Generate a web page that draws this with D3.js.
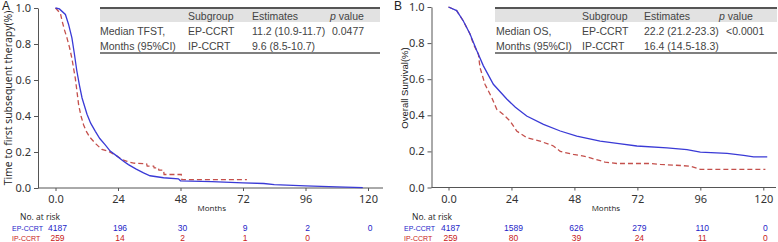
<!DOCTYPE html>
<html>
<head>
<meta charset="utf-8">
<script src="https://cdn.jsdelivr.net/npm/d3@7"></script>
<style>
  body { margin: 0; background: #fff; }
  svg { display: block; }
  text { font-family: "Liberation Sans", Arial, sans-serif; }
</style>
</head>
<body>
<div id="chart"></div>
<script>
// ---- data ----
const monthTicks = [0, 24, 48, 72, 96, 120];
const yTicks = [0, 0.2, 0.4, 0.6, 0.8, 1.0];

// panel A: time to first subsequent therapy
const tfstEP = [[0,1],[1.5,0.995],[3.8,0.964],[5,0.91],[6.3,0.834],[7.2,0.75],[8.2,0.65],[9.2,0.57],[10.2,0.50],
  [12.1,0.41],[13.5,0.36],[15.3,0.315],[17,0.275],[19.1,0.24],[21,0.205],[23.6,0.177],[26,0.15],[28,0.13],
  [31,0.105],[33.8,0.084],[36.3,0.068],[41.5,0.057],[47.2,0.051],[48,0.04],[60,0.035],[72,0.029],[80,0.025],
  [84,0.019],[96,0.012],[108,0.006],[118,0.002]];
const tfstIP = [[0,1],[1.9,0.97],[2.5,0.93],[3.4,0.88],[4.4,0.834],[5.4,0.78],[6.3,0.72],[7.0,0.66],[7.6,0.61],
  [8.3,0.53],[8.9,0.46],[9.8,0.40],[10.8,0.35],[12,0.31],[13.3,0.28],[15.5,0.245],[17.8,0.214],[20.4,0.204],
  [22,0.19],[23.6,0.178],[25.5,0.158],[27.5,0.148],[30,0.138],[35,0.134],[35.2,0.122],[37.7,0.122],[37.9,0.112],
  [39.5,0.112],[39.7,0.099],[41.5,0.099],[41.7,0.075],[48.3,0.075],[48.5,0.047],[73.5,0.047]];

// panel B: overall survival
const osEP = [[0,1],[3.1,0.98],[5.6,0.924],[8.2,0.85],[10.8,0.757],[13.3,0.674],[17.1,0.572],[22.2,0.49],
  [25.5,0.445],[29.8,0.396],[36.2,0.35],[42.6,0.313],[48.9,0.285],[57.8,0.257],[65,0.243],[71.8,0.23],
  [83.3,0.22],[90.9,0.21],[96,0.196],[106.2,0.189],[112.5,0.178],[116.3,0.17],[121.5,0.17]];
const osIP = [[0,1],[3.1,0.98],[5.6,0.924],[8.2,0.85],[9.5,0.794],[11.4,0.739],[12,0.665],[13.9,0.572],
  [16.5,0.498],[18.4,0.433],[20.9,0.405],[23.5,0.368],[26,0.313],[29.8,0.276],[34.9,0.257],[40,0.23],
  [42.6,0.20],[47.6,0.183],[51.5,0.174],[55.3,0.159],[59.7,0.141],[64.2,0.133],[77,0.133],[80.7,0.128],
  [88.4,0.122],[92.2,0.118],[96,0.10],[120.8,0.10]];

// numbers at risk
const riskTfstEP = [4187, 196, 30, 9, 2, 0];
const riskTfstIP = [259, 14, 2, 1, 0];
const riskOsEP = [4187, 1589, 626, 279, 110, 0];
const riskOsIP = [259, 80, 39, 24, 11, 0];

const tableHeader = ["Subgroup", "Estimates", "p value"];
const tfstRows = [["Median TFST,", "EP-CCRT", "11.2 (10.9-11.7)", "0.0477"],
                  ["Months (95%CI)", "IP-CCRT", "9.6 (8.5-10.7)", ""]];
const osRows = [["Median OS,", "EP-CCRT", "22.2 (21.2-23.3)", "<0.0001"],
                ["Months (95%CI)", "IP-CCRT", "16.4 (14.5-18.3)", ""]];

const blue = "#3a3ad6", red = "#c4504c";
const blueTxt = "#2424c8", redTxt = "#c82020";

const svg = d3.select("#chart").append("svg")
    .attr("width", 778).attr("height", 242);

function drawPanel(cfg) {
    let g = svg.append("g");

    let x = d3.scaleLinear().domain([0, 120]).range([cfg.x0, cfg.x1]);
    let y = d3.scaleLinear().domain([0, 1]).range([cfg.yb, cfg.yt]);

    // panel letter
    g.append("text").attr("x", cfg.letterX).attr("y", 10)
        .attr("font-size", 12).attr("fill", "#222").text(cfg.letter);

    // y axis
    let yAxis = d3.axisLeft(y).tickValues(yTicks).tickFormat(d3.format(".1f"))
        .tickSize(4).tickSizeOuter(0);
    let ya = g.append("g").attr("transform", `translate(${cfg.axisX},0)`).call(yAxis);
    ya.selectAll("text").attr("font-size", 11).attr("fill", "#333")
        .style("font-family", "'Noto Sans', sans-serif");
    ya.selectAll("line,path").attr("stroke", "#555");

    // x axis, line runs a bit past the data range
    let xa = g.append("g").attr("transform", `translate(0,${cfg.yb})`)
        .call(d3.axisBottom(x).tickValues(monthTicks)
            .tickFormat(d => d === 0 ? "0.0" : d).tickSize(3).tickSizeOuter(0));
    xa.select(".domain").attr("d", `M${cfg.axisX},0H${cfg.axisEnd}`);
    xa.selectAll("text").attr("font-size", 11).attr("fill", "#333").attr("dy", "0.85em")
        .style("font-family", "'Noto Sans', sans-serif");
    xa.selectAll("line,path").attr("stroke", "#555");

    g.append("text").attr("x", (cfg.x0 + cfg.x1) / 2).attr("y", 211)
        .attr("text-anchor", "middle").attr("font-size", 8).attr("fill", "#222")
        .style("font-family", "'Open Sans', sans-serif").text("Months");

    // y title
    g.append("text")
        .attr("transform", `translate(${cfg.titleX},${cfg.titleY}) rotate(-90)`)
        .attr("text-anchor", "middle").attr("font-size", cfg.titleSize).attr("fill", "#222")
        .style("font-family", cfg.titleFont).text(cfg.title);

    // curves
    let line = d3.line().x(d => x(d[0])).y(d => y(d[1]));

    g.append("path").datum(cfg.ip).attr("d", line)
        .attr("fill", "none").attr("stroke", red).attr("stroke-width", 1.3)
        .attr("stroke-dasharray", "5,3");
    g.append("path").datum(cfg.ep).attr("d", line)
        .attr("fill", "none").attr("stroke", blue).attr("stroke-width", 1.3);

    // table
    let t = g.append("g");
    t.append("rect").attr("x", cfg.tx0).attr("y", 8).attr("width", cfg.tx1 - cfg.tx0).attr("height", 14)
        .attr("fill", "#e2e2e2");
    t.append("line").attr("x1", cfg.tx0).attr("x2", cfg.tx1).attr("y1", 8).attr("y2", 8)
        .attr("stroke", "#555").attr("stroke-width", 1.8);
    t.append("line").attr("x1", cfg.tx0).attr("x2", cfg.tx1).attr("y1", 53).attr("y2", 53)
        .attr("stroke", "#555").attr("stroke-width", 1.5);

    let rowY = [19.5, 35.5, 50];
    tableHeader.forEach((h, i) => {
        let tx = t.append("text").attr("x", cfg.cols[i + 1]).attr("y", rowY[0])
            .attr("font-size", 10.5).attr("fill", "#444");
        if (h === "p value") {
            tx.append("tspan").attr("font-style", "italic").text("p");
            tx.append("tspan").text(" value");
        } else tx.text(h);
    });
    cfg.rows.forEach((r, ri) => {
        r.forEach((c, ci) => {
            let cx = cfg.cols[ci];
            if (ci === 3) cx = cfg.pvX;
            t.append("text").attr("x", cx).attr("y", rowY[ri + 1] - 0.5)
                .attr("font-size", 10.5).attr("fill", "#444").text(c);
        });
    });

    // numbers at risk
    g.append("text").attr("x", cfg.letterX + 18).attr("y", 219.5)
        .attr("font-size", 8.5).attr("fill", "#222")
        .style("font-family", "'Open Sans', sans-serif").text("No. at risk");
    [["EP-CCRT", cfg.riskEP, blueTxt, 231], ["IP-CCRT", cfg.riskIP, redTxt, 241]].forEach(row => {
        g.append("text").attr("x", cfg.letterX + 10).attr("y", row[3])
            .attr("font-size", 7).attr("fill", row[2]).text(row[0]);
        g.selectAll(null).data(row[1]).enter().append("text")
            .attr("x", (d, i) => x(monthTicks[i]) + 2)
            .attr("y", row[3])
            .attr("text-anchor", "middle").attr("font-size", 8.5).attr("fill", row[2])
            .text(d => d);
    });
}

drawPanel({
    letter: "A", letterX: 2,
    x0: 55.5, x1: 368, yb: 188, yt: 8, axisX: 38, axisEnd: 383,
    title: "Time to first subsequent therapy(%)", titleX: 12, titleY: 98, titleSize: 10.5,
    titleFont: "'Open Sans', sans-serif",
    ep: tfstEP, ip: tfstIP,
    tx0: 100, tx1: 380, cols: [100, 188, 252, 330], pvX: 332, rows: tfstRows,
    riskEP: riskTfstEP, riskIP: riskTfstIP
});

drawPanel({
    letter: "B", letterX: 394,
    x0: 448.5, x1: 763.3, yb: 187.5, yt: 7, axisX: 431.5, axisEnd: 776,
    title: "Overall Survival(%)", titleX: 408, titleY: 88, titleSize: 9.5,
    titleFont: "'Liberation Sans', Arial, sans-serif",
    ep: osEP, ip: osIP,
    tx0: 495, tx1: 777, cols: [496, 582, 644, 719], pvX: 726, rows: osRows,
    riskEP: riskOsEP, riskIP: riskOsIP
});
</script>
</body>
</html>
